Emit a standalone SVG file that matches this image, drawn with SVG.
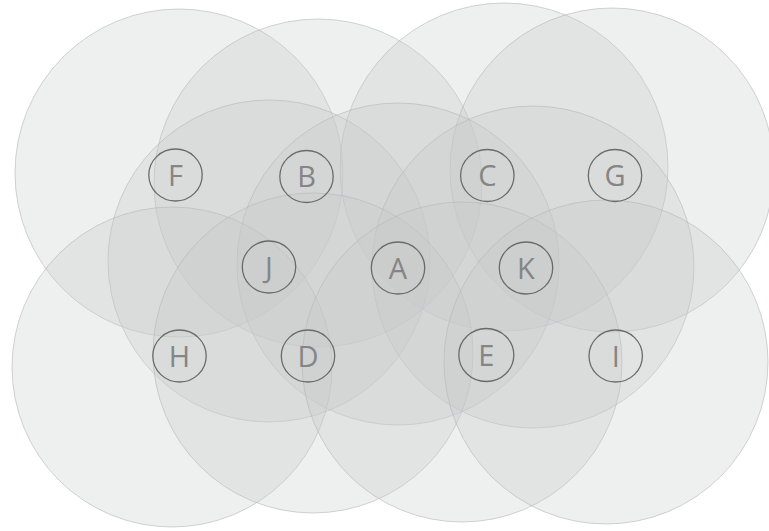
<svg xmlns="http://www.w3.org/2000/svg" width="769" height="531" viewBox="0 0 769 531">
<style>
.zone{fill:#c6caca;fill-opacity:0.3;stroke:#b4b6b8;stroke-opacity:0.6;stroke-width:1}
.node{fill:none;stroke:#6a6a6a;stroke-width:1.3}
.lbl{font-family:"Open Sans","Liberation Sans",sans-serif;font-size:29px;fill:#858585;text-anchor:middle}
</style>
<rect width="769" height="531" fill="#ffffff"/>
<g id="zones">
<circle class="zone" cx="179" cy="173" r="164"/>
<circle class="zone" cx="318" cy="183" r="164"/>
<circle class="zone" cx="504" cy="167" r="164"/>
<circle class="zone" cx="612" cy="170" r="162"/>
<circle class="zone" cx="269" cy="261" r="161"/>
<circle class="zone" cx="398" cy="264" r="161"/>
<circle class="zone" cx="533" cy="267" r="161"/>
<circle class="zone" cx="172" cy="367" r="160"/>
<circle class="zone" cx="313" cy="353" r="160"/>
<circle class="zone" cx="462" cy="362" r="160"/>
<circle class="zone" cx="606" cy="362" r="162"/>
</g>
<g id="connectors"></g>
<g id="F"><ellipse class="node" cx="175.5" cy="175" rx="26.7" ry="26"/><text class="lbl" x="175.5" y="185.5">F</text></g>
<g id="B"><ellipse class="node" cx="306.5" cy="176.5" rx="26.7" ry="26"/><text class="lbl" x="306.5" y="187">B</text></g>
<g id="C"><ellipse class="node" cx="487.3" cy="175.5" rx="26.7" ry="26"/><text class="lbl" x="487.3" y="186">C</text></g>
<g id="G"><ellipse class="node" cx="615" cy="175.5" rx="26.7" ry="26"/><text class="lbl" x="615" y="186">G</text></g>
<g id="J"><ellipse class="node" cx="269" cy="267" rx="26.7" ry="26"/><text class="lbl" x="269" y="277.5">J</text></g>
<g id="A"><ellipse class="node" cx="398" cy="268" rx="26.7" ry="26"/><text class="lbl" x="398" y="278.5">A</text></g>
<g id="K"><ellipse class="node" cx="526" cy="268" rx="26.7" ry="26"/><text class="lbl" x="526" y="278.5">K</text></g>
<g id="H"><ellipse class="node" cx="179.5" cy="356" rx="26.7" ry="26"/><text class="lbl" x="179.5" y="366.5">H</text></g>
<g id="D"><ellipse class="node" cx="308" cy="356" rx="26.7" ry="26"/><text class="lbl" x="308" y="366.5">D</text></g>
<g id="E"><ellipse class="node" cx="486.3" cy="355" rx="27.5" ry="26.5"/><text class="lbl" x="486.3" y="365.5">E</text></g>
<g id="I"><ellipse class="node" cx="615.7" cy="356" rx="26.7" ry="26"/><text class="lbl" x="615.7" y="366.5">I</text></g>
</svg>
